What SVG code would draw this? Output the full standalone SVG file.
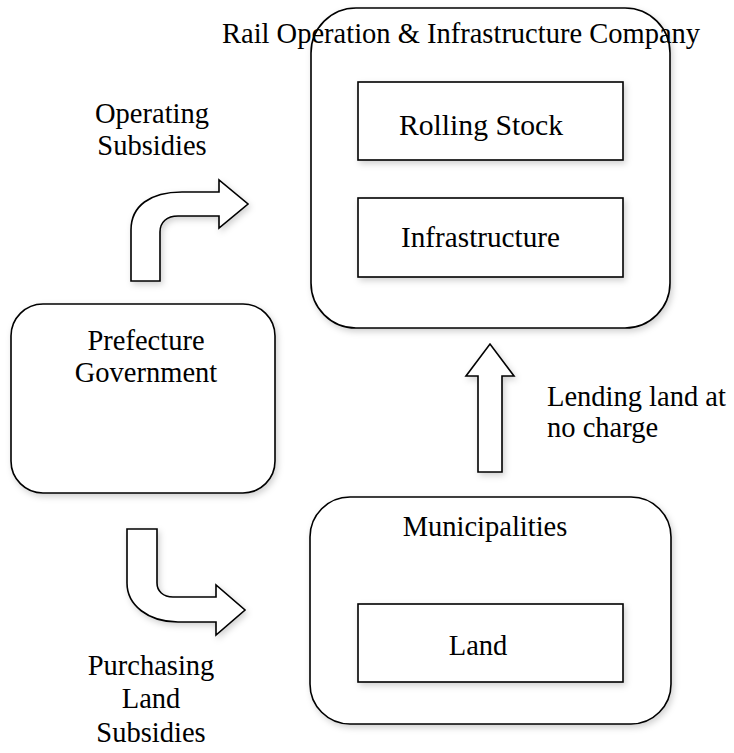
<svg xmlns="http://www.w3.org/2000/svg" width="734" height="753" viewBox="0 0 734 753">
<style>
.box{fill:#fff;stroke:#000;stroke-width:1.6}
.arrow{fill:#fff;stroke:#000;stroke-width:1.6;stroke-linejoin:miter}
.t{font-family:'Liberation Serif','Times New Roman',Tinos,'DejaVu Serif',serif;font-size:28.5px;fill:#000}
.c{text-anchor:middle}
</style>
<defs>
<filter id="sh" x="-10%" y="-10%" width="125%" height="125%">
<feDropShadow dx="2" dy="3" stdDeviation="3" flood-color="#000" flood-opacity="0.18"/>
</filter>
</defs>
<rect width="734" height="753" fill="#fff"/>
<g id="rail-company">
<rect class="box" filter="url(#sh)" x="311" y="8" width="359" height="320" rx="45" ry="45"/>
<text class="t" x="222" y="43">Rail Operation &amp; Infrastructure Company</text>
</g>
<g id="rolling-stock">
<rect class="box" filter="url(#sh)" x="358" y="82" width="265" height="78"/>
<text class="t" x="399" y="135" textLength="164" lengthAdjust="spacingAndGlyphs">Rolling Stock</text>
</g>
<g id="infrastructure">
<rect class="box" filter="url(#sh)" x="358" y="198" width="265" height="79"/>
<text class="t" x="401" y="247" textLength="159" lengthAdjust="spacingAndGlyphs">Infrastructure</text>
</g>
<g id="prefecture">
<rect class="box" filter="url(#sh)" x="11" y="304" width="264" height="189" rx="32" ry="32"/>
<text class="t c" x="146" y="350">Prefecture</text>
<text class="t c" x="146" y="382">Government</text>
</g>
<g id="municipalities">
<rect class="box" filter="url(#sh)" x="310" y="497" width="361" height="227" rx="40" ry="40"/>
<text class="t c" x="485" y="536">Municipalities</text>
</g>
<g id="land">
<rect class="box" filter="url(#sh)" x="358" y="604" width="265" height="78"/>
<text class="t c" x="478" y="655">Land</text>
</g>
<g id="connectors">
<path class="arrow" filter="url(#sh)" d="M131,281 L131,230 C131,206 150,192 182,192 L219,192 L219,180 L248,204 L219,228 L219,216 L178,216 C167,216 160,222 160,232 L160,281 Z"/>
<path class="arrow" filter="url(#sh)" d="M127,529 L157,529 L157,583 C157,591 163,597 173,597 L216,597 L216,585 L245,610 L216,635 L216,622 L178,622 C148,622 127,605 127,583 Z"/>
<path class="arrow" filter="url(#sh)" d="M478,472 L478,376 L466,376 L490,344 L514,376 L502,376 L502,472 Z"/>
<text class="t c" x="152" y="123">Operating</text>
<text class="t c" x="152" y="155">Subsidies</text>
<text class="t" x="547" y="406">Lending land at</text>
<text class="t" x="547" y="437">no charge</text>
<text class="t c" x="151" y="675">Purchasing</text>
<text class="t c" x="151" y="708">Land</text>
<text class="t c" x="151" y="742">Subsidies</text>
</g>
</svg>
